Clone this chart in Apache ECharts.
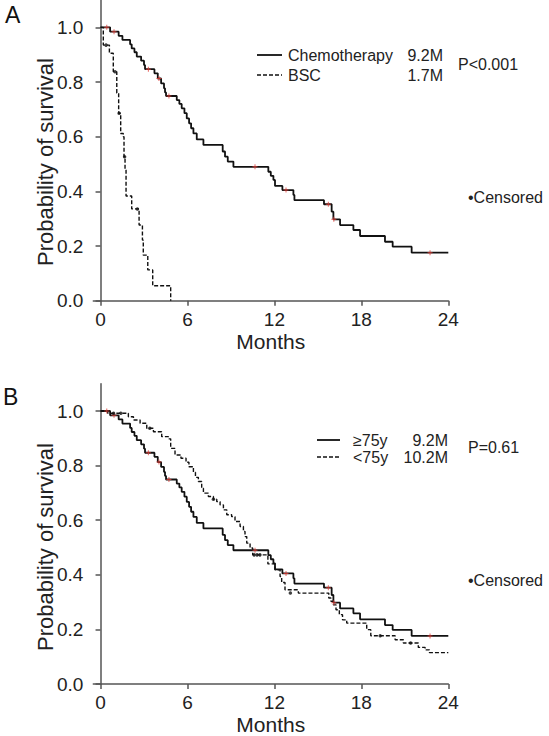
<!DOCTYPE html>
<html><head><meta charset="utf-8">
<script src="https://cdn.jsdelivr.net/npm/echarts@6/dist/echarts.min.js"></script>
<style>html,body{margin:0;padding:0;background:#fff}#c{width:549px;height:736px}</style>
</head><body><div id="c"></div>
<script>
// ---- Data (months, survival probability) ----
const chemoT = [0, 0.66, 1.25, 1.51, 2.04, 2.15, 2.34, 2.50, 2.80, 3.00, 3.07, 3.72, 3.95, 4.18, 4.38, 4.45, 4.52, 5.26, 5.44, 5.60, 5.79, 5.95, 6.11, 6.25, 6.41, 6.64, 7.10, 8.43, 8.59, 8.78, 9.17, 11.58, 11.75, 11.93, 12.04, 12.55, 13.31, 13.38, 15.42, 15.95, 16.07, 16.53, 17.45, 17.91, 19.63, 20.16, 21.47, 24];
const chemoS = [1, 0.984, 0.969, 0.954, 0.938, 0.923, 0.909, 0.893, 0.878, 0.862, 0.847, 0.832, 0.813, 0.795, 0.777, 0.762, 0.749, 0.734, 0.720, 0.704, 0.686, 0.667, 0.649, 0.631, 0.612, 0.590, 0.570, 0.546, 0.527, 0.509, 0.490, 0.472, 0.457, 0.442, 0.420, 0.405, 0.387, 0.368, 0.353, 0.326, 0.298, 0.277, 0.259, 0.237, 0.216, 0.198, 0.176, 0.176];
const chemoCensT = [0.43, 0.93, 3.30, 4.03, 4.72, 10.66, 12.80, 15.72, 16.10, 22.74];
const chemoCensS = [1.0, 0.984, 0.847, 0.813, 0.749, 0.490, 0.405, 0.353, 0.298, 0.176];

const bscT = [0, 0.19, 0.61, 0.88, 1.12, 1.25, 1.39, 1.57, 1.62, 1.69, 1.76, 2.15, 2.66, 2.89, 2.95, 3.26, 3.60, 4.84];
const bscS = [1, 0.935, 0.905, 0.838, 0.760, 0.686, 0.612, 0.600, 0.527, 0.478, 0.383, 0.336, 0.277, 0.222, 0.167, 0.113, 0.055, 0];
const bscCensT = [0.38, 1.00, 1.28, 1.66, 2.54];
const bscCensS = [0.935, 0.838, 0.686, 0.527, 0.336];

// >=75y curve is the same cohort curve as chemotherapy
const oldT = chemoT, oldS = chemoS;
const oldCensT = chemoCensT, oldCensS = chemoCensS;

const youngT = [0, 0.5, 1.92, 2.27, 2.73, 3.19, 3.65, 4.22, 4.68, 4.84, 5.14, 5.55, 5.90, 6.10, 6.41, 6.55, 6.75, 6.98, 7.10, 7.44, 7.79, 8.02, 8.25, 8.48, 8.71, 9.05, 9.28, 9.63, 9.86, 9.97, 10.09, 10.32, 10.50, 11.55, 12.04, 12.39, 12.50, 12.73, 13.65, 15.75, 15.90, 16.07, 16.25, 16.48, 16.70, 16.99, 18.37, 18.65, 20.33, 20.90, 21.93, 22.40, 22.70, 24];
const youngS = [1, 0.992, 0.979, 0.967, 0.955, 0.937, 0.924, 0.906, 0.898, 0.863, 0.839, 0.827, 0.812, 0.796, 0.776, 0.757, 0.742, 0.717, 0.699, 0.687, 0.677, 0.668, 0.656, 0.638, 0.620, 0.613, 0.595, 0.577, 0.559, 0.540, 0.516, 0.498, 0.473, 0.440, 0.418, 0.394, 0.372, 0.345, 0.333, 0.315, 0.303, 0.290, 0.272, 0.254, 0.235, 0.223, 0.199, 0.177, 0.162, 0.150, 0.134, 0.125, 0.115, 0.115];
const youngCensT = [0.9, 1.4, 3.4, 7.79, 10.6, 10.8, 11.0, 13.1, 19.3, 21.4];
const youngCensS = [0.992, 0.992, 0.937, 0.677, 0.473, 0.473, 0.473, 0.333, 0.177, 0.150];

const xTicks = [0, 6, 12, 18, 24];
const yTicks = [0, 0.2, 0.4, 0.6, 0.8, 1.0];

// ---- Build ----
const zip = (a, b) => a.map((v, i) => [v, b[i]]);
const FONT = "'Liberation Sans', Arial, Helvetica, sans-serif";
const AX = '#555', TXT = '#222';

function xAxis(gi) {
  return {
    gridIndex: gi, type: 'value', min: -0.5, max: 24,
    axisLine: { onZero: true, lineStyle: { color: AX, width: 1.5 } },
    axisTick: { customValues: xTicks, length: 5, lineStyle: { color: AX, width: 1.5 } },
    axisLabel: { customValues: xTicks, fontSize: 19, color: TXT, fontFamily: FONT, margin: 9 },
    splitLine: { show: false },
    name: 'Months', nameLocation: 'middle', nameGap: 30,
    nameTextStyle: { fontSize: 21, color: TXT, fontFamily: FONT }
  };
}
function yAxis(gi) {
  return {
    gridIndex: gi, type: 'value', min: 0, max: 1.1,
    axisLine: { show: true, onZero: true, lineStyle: { color: AX, width: 1.5 } },
    axisTick: { show: true, customValues: yTicks, length: 5, lineStyle: { color: AX, width: 1.5 } },
    axisLabel: { customValues: yTicks, fontSize: 19, color: TXT, fontFamily: FONT, margin: 10,
                 formatter: v => v.toFixed(1) },
    splitLine: { show: false }
  };
}
function stepLine(gi, t, s, dashed) {
  return {
    type: 'line', xAxisIndex: gi, yAxisIndex: gi, step: 'end', showSymbol: false,
    data: zip(t, s), silent: true,
    lineStyle: { color: '#111', width: dashed ? 1.4 : 1.8, type: dashed ? [4, 2] : 'solid' }
  };
}
function cens(gi, t, s, red) {
  return {
    type: 'scatter', xAxisIndex: gi, yAxisIndex: gi, data: zip(t, s), silent: true,
    symbol: red ? 'path://M2,0H3V2H5V3H3V5H2V3H0V2H2Z' : 'circle',
    symbolSize: red ? 5 : 3.5,
    itemStyle: { color: red ? '#e2403a' : '#111' }, z: 5
  };
}
function txt(x, y, s, opts) {
  return { type: 'text', x: x, y: y,
    style: Object.assign({ text: s, fill: TXT, font: '16px ' + FONT, align: 'left', verticalAlign: 'middle' }, opts || {}) };
}
function seg(x1, x2, y, dashed) {
  return { type: 'line', shape: { x1: x1, y1: y, x2: x2, y2: y },
    style: { stroke: '#111', lineWidth: dashed ? 1.4 : 1.8, lineDash: dashed ? [4, 2] : null } };
}
function yName(y) {
  return { type: 'text', x: 45, y: y, rotation: Math.PI / 2,
    style: { text: 'Probability of survival', font: '22px ' + FONT, fill: TXT, align: 'center', verticalAlign: 'middle' } };
}

const chart = echarts.init(document.getElementById('c'), null, { renderer: 'svg' });
chart.setOption({
  animation: false,
  backgroundColor: '#fff',
  grid: [
    { left: 93.3, right: 100.7, top: 0, bottom: 435.2 },
    { left: 93.3, right: 100.7, top: 383.7, bottom: 51.7 }
  ],
  xAxis: [xAxis(0), xAxis(1)],
  yAxis: [yAxis(0), yAxis(1)],
  series: [
    stepLine(0, chemoT, chemoS, false), cens(0, chemoCensT, chemoCensS, true),
    stepLine(0, bscT, bscS, true), cens(0, bscCensT, bscCensS, false),
    stepLine(1, oldT, oldS, false), cens(1, oldCensT, oldCensS, true),
    stepLine(1, youngT, youngS, true), cens(1, youngCensT, youngCensS, false)
  ],
  graphic: [
    txt(5, 15, 'A', { font: '23px ' + FONT, fill: '#111' }),
    txt(3, 397, 'B', { font: '23px ' + FONT, fill: '#111' }),
    yName(162), yName(547),
    // legend A
    seg(257, 282, 55, false), seg(257, 282, 75, true),
    txt(288, 55, 'Chemotherapy'), txt(288, 75, 'BSC'),
    txt(443, 55, '9.2M', { align: 'right' }), txt(443, 75, '1.7M', { align: 'right' }),
    txt(458, 64, 'P<0.001'),
    txt(468, 197, '\u2022Censored'),
    // legend B
    seg(317, 340, 440, false), seg(317, 340, 457, true),
    txt(353, 440, '\u226575y'), txt(353, 457, '<75y'),
    txt(448, 440, '9.2M', { align: 'right' }), txt(448, 457, '10.2M', { align: 'right' }),
    txt(468, 447, 'P=0.61'),
    txt(468, 580, '\u2022Censored')
  ]
});
</script></body></html>
